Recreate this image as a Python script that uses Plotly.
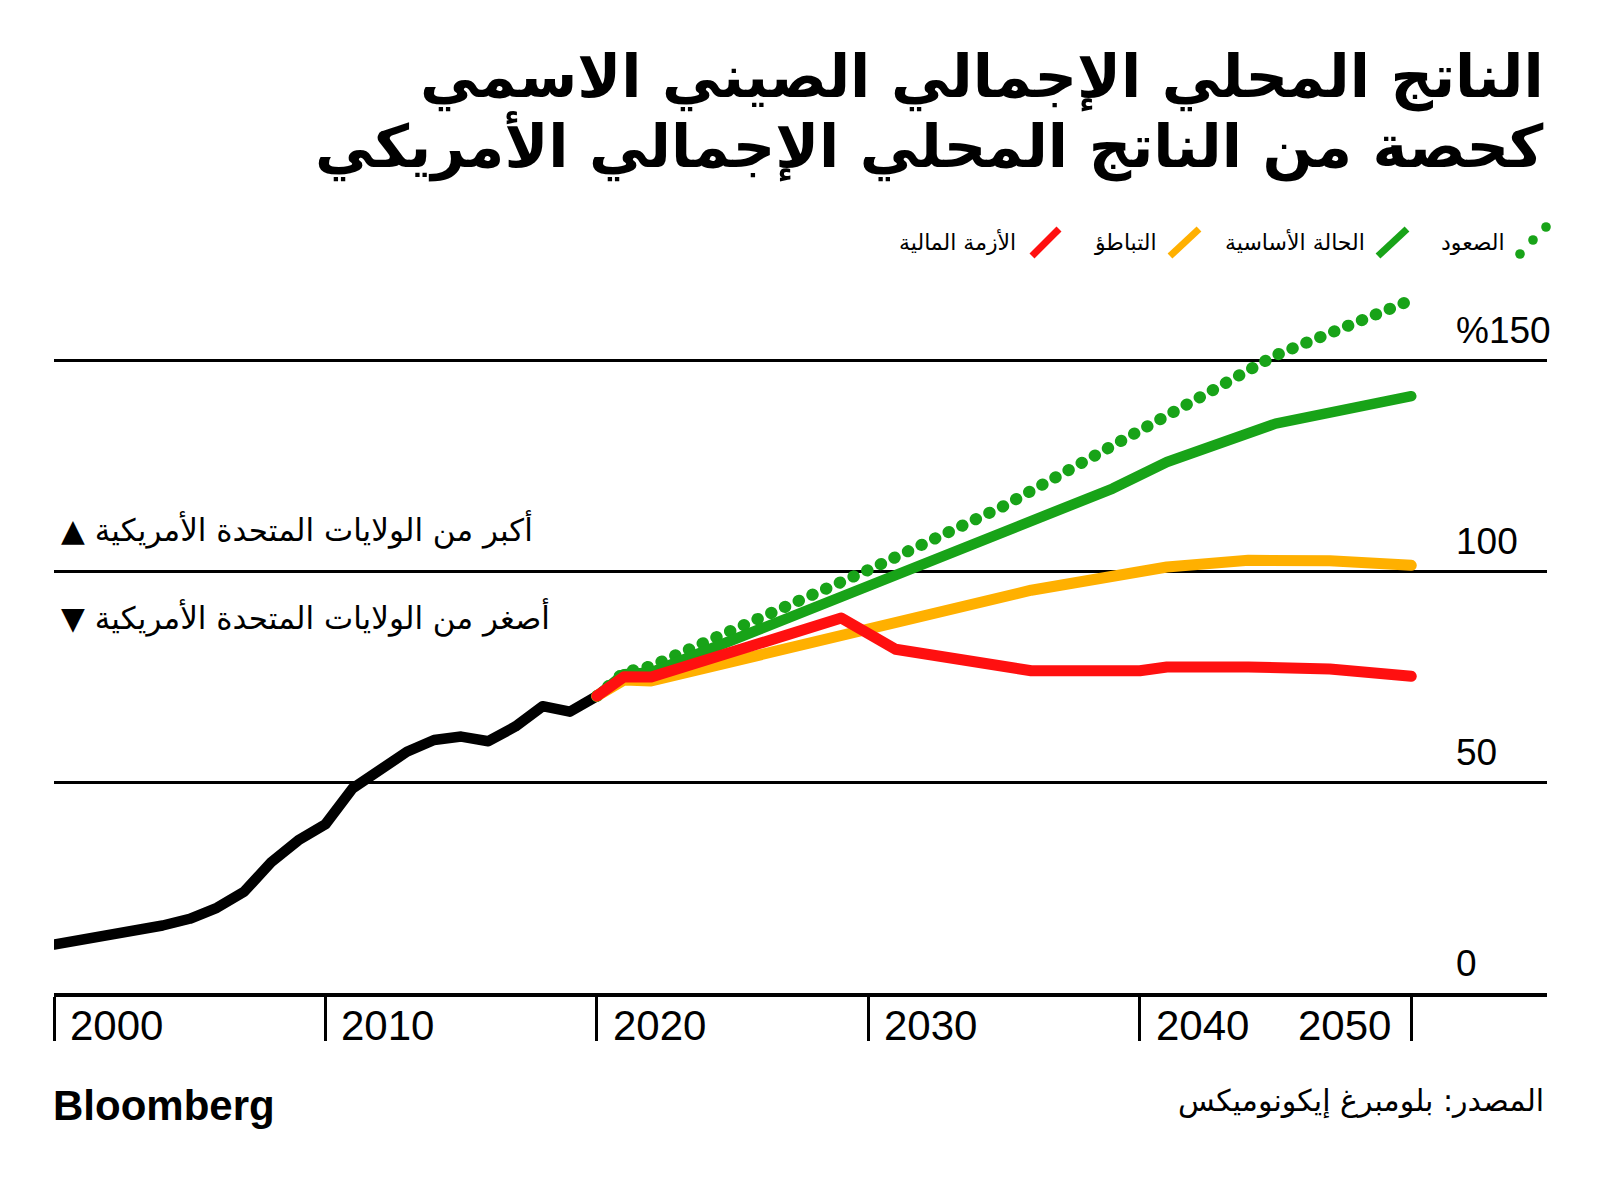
import plotly.graph_objects as go

# ---------------- data ----------------
hist_years = list(range(2000, 2021))
hist_vals = [11.5, 12.5, 13.5, 14.5, 16.0, 17.6, 20.2, 24.0, 31.0, 36.2, 40.0,
             48.5, 53.0, 57.2, 60.0, 60.8, 59.7, 63.2, 68.0, 66.7, 70.4]

rise_years = [2020, 2021, 2022, 2030, 2035, 2045, 2050]
rise_vals = [70.4, 76.0, 77.5, 100.3, 115.5, 151.2, 164.3]

base_years = [2020, 2021, 2022, 2039, 2041, 2045, 2050]
base_vals = [70.4, 75.6, 76.0, 119.6, 125.9, 135.0, 141.5]

slow_years = [2020, 2021, 2022, 2036, 2041, 2044, 2047, 2050]
slow_vals = [70.4, 74.2, 74.0, 95.5, 101.0, 102.6, 102.5, 101.4]

crisis_years = [2020, 2021, 2022, 2029, 2031, 2036, 2040, 2041, 2044, 2047, 2050]
crisis_vals = [70.4, 75.0, 74.9, 88.9, 81.5, 76.4, 76.4, 77.3, 77.3, 76.8, 75.1]

x_ticks = [2000, 2010, 2020, 2030, 2040, 2050]
x_tick_labels = ["2000", "2010", "2020", "2030", "2040", "2050"]
y_ticks = [0, 50, 100, 150]
y_tick_labels = ["0", "50", "100", "%150"]

legend_names = ["الصعود", "الحالة الأساسية", "التباطؤ", "الأزمة المالية"]

title_lines = ["الناتج المحلي الإجمالي الصيني الاسمي",
               "كحصة من الناتج المحلي الإجمالي الأمريكي"]
above_text = "▲ أكبر من الولايات المتحدة الأمريكية"
below_text = "▼ أصغر من الولايات المتحدة الأمريكية"
source_text = "المصدر: بلومبرغ إيكونوميكس"

# ---------------- styling ----------------
GREEN = "#18a318"
ORANGE = "#ffb000"
RED = "#ff1010"
BLACK = "#000000"
AR_FONT = "DejaVu Sans"
NUM_FONT = "Liberation Sans, Arial, sans-serif"

W, H = 1600, 1186
L, R, T, B = 54, 53, 276, 193
PW, PH = W - L - R, H - T - B


def px2x(px):
    return (px - L) / PW


def px2y(py):
    return (H - B - py) / PH


fig = go.Figure()
fig.add_trace(go.Scatter(x=hist_years, y=hist_vals, mode="lines",
                         line=dict(color=BLACK, width=10.5), hoverinfo="skip"))
fig.add_trace(go.Scatter(x=rise_years, y=rise_vals, mode="lines",
                         line=dict(color=GREEN, width=12, dash="0.5px,14.5px"),
                         hoverinfo="skip"))
fig.add_trace(go.Scatter(x=base_years, y=base_vals, mode="lines",
                         line=dict(color=GREEN, width=10.5), hoverinfo="skip"))
fig.add_trace(go.Scatter(x=slow_years, y=slow_vals, mode="lines",
                         line=dict(color=ORANGE, width=11), hoverinfo="skip"))
fig.add_trace(go.Scatter(x=crisis_years, y=crisis_vals, mode="lines",
                         line=dict(color=RED, width=11), hoverinfo="skip"))

annotations = []
# y tick labels
for v, t in zip(y_ticks, y_tick_labels):
    annotations.append(dict(x=px2x(1454), xref="paper", y=v, yref="y",
                            yshift=30, xanchor="left", yanchor="middle",
                            text=t, showarrow=False,
                            font=dict(family=NUM_FONT, size=37, color=BLACK)))
# x tick labels
for v, t in zip(x_ticks, x_tick_labels):
    last = v == x_ticks[-1]
    annotations.append(dict(x=v, xref="x", y=0, yref="paper",
                            xshift=-18 if last else 14, yshift=-32,
                            xanchor="right" if last else "left", yanchor="middle",
                            text=t, showarrow=False,
                            font=dict(family=NUM_FONT, size=42, color=BLACK)))
# title
annotations.append(dict(x=px2x(1546), xref="paper", y=px2y(77), yref="paper",
                        xanchor="right", yanchor="middle", text="<b>" + title_lines[0] + "</b>",
                        showarrow=False, font=dict(family=AR_FONT, size=59, color=BLACK)))
annotations.append(dict(x=px2x(1546), xref="paper", y=px2y(147), yref="paper",
                        xanchor="right", yanchor="middle", text="<b>" + title_lines[1] + "</b>",
                        showarrow=False, font=dict(family=AR_FONT, size=59, color=BLACK)))
# above / below notes
annotations.append(dict(x=px2x(59), xref="paper", y=px2y(529), yref="paper",
                        xanchor="left", yanchor="middle", text=above_text,
                        showarrow=False, font=dict(family=AR_FONT, size=31, color=BLACK)))
annotations.append(dict(x=px2x(59), xref="paper", y=px2y(617), yref="paper",
                        xanchor="left", yanchor="middle", text=below_text,
                        showarrow=False, font=dict(family=AR_FONT, size=31, color=BLACK)))
# footer
annotations.append(dict(x=px2x(51), xref="paper", y=px2y(1105), yref="paper",
                        xanchor="left", yanchor="middle", text="<b>Bloomberg</b>",
                        showarrow=False, font=dict(family=NUM_FONT, size=42, color=BLACK)))
annotations.append(dict(x=px2x(1546), xref="paper", y=px2y(1101), yref="paper",
                        xanchor="right", yanchor="middle", text=source_text,
                        showarrow=False, font=dict(family=AR_FONT, size=30, color=BLACK)))

# legend (custom, right-to-left)
legend_text_right = [1507, 1367, 1159, 1018]
for name, xr in zip(legend_names, legend_text_right):
    annotations.append(dict(x=px2x(xr), xref="paper", y=px2y(242), yref="paper",
                            xanchor="right", yanchor="middle", text=name,
                            showarrow=False, font=dict(family=AR_FONT, size=22, color=BLACK)))

shapes = []
for (x0, x1), col in zip([(1378, 1407), (1170, 1199), (1032, 1059)], [GREEN, ORANGE, RED]):
    shapes.append(dict(type="line", xref="paper", yref="paper",
                       x0=px2x(x0), y0=px2y(256), x1=px2x(x1), y1=px2y(229),
                       line=dict(color=col, width=7)))
for cx, cy in [(1520, 254), (1533, 240), (1546, 227)]:
    r = 4.8
    shapes.append(dict(type="circle", xref="paper", yref="paper",
                       x0=px2x(cx - r), x1=px2x(cx + r), y0=px2y(cy + r), y1=px2y(cy - r),
                       fillcolor=GREEN, line=dict(width=0)))

fig.update_layout(
    width=W, height=H,
    margin=dict(l=L, r=R, t=T, b=B, autoexpand=False),
    paper_bgcolor="white", plot_bgcolor="white",
    showlegend=False,
    annotations=annotations,
    shapes=shapes,
    xaxis=dict(range=[2000, 2055], fixedrange=True, showgrid=False, zeroline=False,
               showline=True, linecolor=BLACK, linewidth=4,
               tickmode="array", tickvals=x_ticks, ticks="outside", ticklen=44,
               tickwidth=3, tickcolor=BLACK, showticklabels=False),
    yaxis=dict(range=[0, 170], fixedrange=True, showgrid=True, gridcolor=BLACK,
               gridwidth=3, zeroline=False, showline=False,
               tickmode="array", tickvals=[50, 100, 150], showticklabels=False, ticks=""),
)

post = """
(function(){
  document.body.style.margin = '0';
  document.body.style.padding = '0';
  document.documentElement.style.margin = '0';
  function fix(){
    var gd = document.getElementById('{plot_id}');
    if(!gd) return;
    gd.querySelectorAll('.scatterlayer .js-line').forEach(function(p){
      p.style.strokeLinecap = 'round';
      p.style.strokeLinejoin = 'round';
    });
  }
  fix();
  var gd = document.getElementById('{plot_id}');
  if (gd && gd.on) gd.on('plotly_afterplot', fix);
  setTimeout(fix, 30);
})();
"""

fig.write_html("out.html", post_script=post, config={"displayModeBar": False})
